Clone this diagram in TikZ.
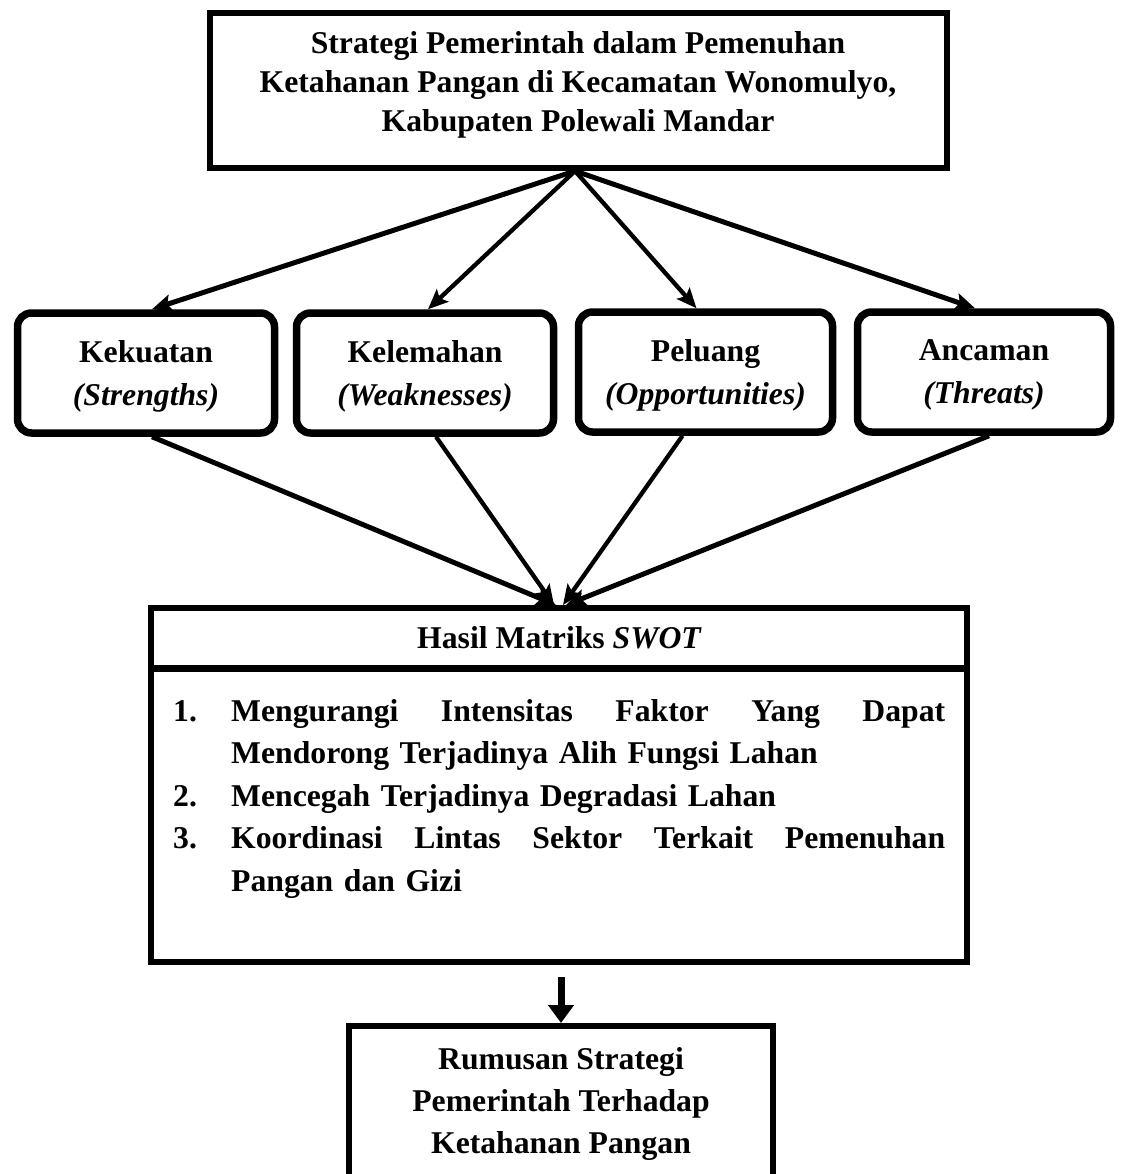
\documentclass[tikz,border=0pt]{standalone}
\usepackage{fontspec}
\setmainfont{Liberation Serif}
\usetikzlibrary{arrows.meta,calc}
\newcommand\myf[1]{\fontsize{31.7pt}{#1pt}\selectfont\bfseries}
\newcommand\numbox[1]{\leavevmode\hbox to 58pt{#1\hfill}}
\newcommand\fullline[1]{\hbox to 714pt{#1}}
\begin{document}
\begin{tikzpicture}[x=1pt,y=-1pt,
  sqbox/.style={draw, line width=6pt, inner sep=0pt},
  rbox/.style={draw, line width=7.5pt, rounded corners=14pt, minimum width=257pt,
    minimum height=120pt, inner sep=0pt},
  txt/.style={align=center, inner sep=0pt},
  arr/.style={line width=5pt, -{Stealth[length=20pt,width=17pt,inset=4pt]}},
  arrthin/.style={line width=4.3pt, -{Stealth[length=20pt,width=17pt,inset=4pt]}}
]
\useasboundingbox (0,0) rectangle (1121,1174);
\clip (0,0) rectangle (1121,1174);

% top box
\node[sqbox, minimum width=737pt, minimum height=155pt] (top) at (578.5,90.5) {};
\node[txt, font=\myf{39}] (toptxt) at (578,85)
  {Strategi Pemerintah dalam Pemenuhan\\Ketahanan Pangan di Kecamatan Wonomulyo,\\Kabupaten Polewali Mandar};

% SWOT boxes
\node[rbox] (b1) at (146,373) {};
\node[rbox] (b2) at (425,373) {};
\node[rbox, minimum width=254pt] (b3) at (705.5,372) {};
\node[rbox, minimum width=253pt] (b4) at (984,372) {};
\node[txt, font=\myf{43}] (b1t) at (146,376) {Kekuatan\\{\itshape(Strengths)}};
\node[txt, font=\myf{43}] (b2t) at (425,376) {Kelemahan\\{\itshape(Weaknesses)}};
\node[txt, font=\myf{43}] (b3t) at (705.5,375) {Peluang\\{\itshape(Opportunities)}};
\node[txt, font=\myf{43}] (b4t) at (984,375) {Ancaman\\{\itshape(Threats)}};

% result box
\node[sqbox, minimum width=816pt, minimum height=354pt] (swot) at (559,785) {};
\draw[line width=7pt] (swot.west |- 0,668) -- (swot.east |- 0,668);
\node[txt, font=\myf{40}] (swothead) at (559,638) {Hasil Matriks {\itshape SWOT}};
\node[inner sep=0pt, text width=772pt, align=left, anchor=north west, font=\myf{42.5}] (list) at (173,699)
  {\numbox{1.}\fullline{Mengurangi\hfill Intensitas\hfill Faktor\hfill Yang\hfill Dapat}\\
   \hspace*{58pt}Mendorong Terjadinya Alih Fungsi Lahan\\
   \numbox{2.}Mencegah Terjadinya Degradasi Lahan\\
   \numbox{3.}\fullline{Koordinasi\hfill Lintas\hfill Sektor\hfill Terkait\hfill Pemenuhan}\\
   \hspace*{58pt}Pangan dan Gizi};

% bottom box
\node[sqbox, minimum width=424pt, minimum height=174pt] (bottom) at (561,1113) {};
\node[txt, font=\myf{42}] (bottomtxt) at (561,1103.5)
  {Rumusan Strategi\\Pemerintah Terhadap\\Ketahanan Pangan};

% arrows from top
\draw[arr] ([xshift=-3.5pt]top.south) -- ([xshift=6pt]b1.north);
\draw[arrthin] ([xshift=-3.5pt]top.south) -- ([xshift=3pt]b2.north);
\draw[arrthin] ([xshift=-3.5pt]top.south) -- ([xshift=-9pt]b3.north);
\draw[arr] ([xshift=-3.5pt]top.south) -- ([xshift=-9pt]b4.north);

% arrows to result
\draw[arr] ([xshift=6pt]b1.south) -- ([xshift=-3pt]swot.north);
\draw[arrthin] ([xshift=11pt]b2.south) -- ([xshift=-5pt]swot.north);
\draw[arrthin] ([xshift=-23pt]b3.south) -- ([xshift=4pt]swot.north);
\draw[arr] ([xshift=5pt]b4.south) -- ([xshift=7pt]swot.north);

% final arrow
\draw[line width=7pt, -{Triangle[length=18pt,width=25pt]}, shorten <=12pt]
  (swot.south -| bottom.north) -- (bottom.north);
\end{tikzpicture}
\end{document}
